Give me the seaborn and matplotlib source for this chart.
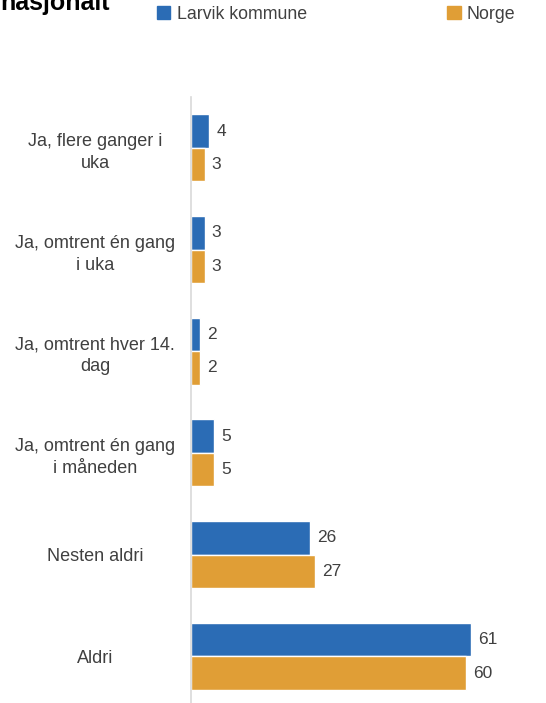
import pandas as pd
import seaborn as sns
import matplotlib.pyplot as plt
from matplotlib.patches import Patch

categories = ['Ja, flere ganger i\nuka', 'Ja, omtrent én gang\ni uka',
              'Ja, omtrent hver 14.\ndag', 'Ja, omtrent én gang\ni måneden',
              'Nesten aldri', 'Aldri']
larvik = [4, 3, 2, 5, 26, 61]
norge = [3, 3, 2, 5, 27, 60]
series = ['Larvik kommune', 'Norge']
colors = ['#2b6cb5', '#e09e36']

df = pd.DataFrame({'kategori': categories * 2,
                   'verdi': larvik + norge,
                   'serie': [series[0]] * 6 + [series[1]] * 6})

sns.set_style('white')
plt.rcParams['font.family'] = ['Liberation Sans', 'DejaVu Sans']
grey = '#404040'

fig = plt.figure(figsize=(5.46, 7.03), dpi=100)
ax = fig.add_axes([191 / 546, 0, 355 / 546, 606 / 703])

sns.barplot(data=df, x='verdi', y='kategori', hue='serie', orient='h',
            palette=colors, width=0.66, order=categories, hue_order=series,
            ax=ax, legend=False, saturation=1)

ax.set_xlim(0, 355 / 4.59)
ax.set_ylim(5.46, -0.5)
ax.set_xlabel('')
ax.set_ylabel('')
ax.set_xticks([])
for s in ['top', 'right', 'bottom']:
    ax.spines[s].set_visible(False)
ax.spines['left'].set_color('#d9d9d9')
ax.spines['left'].set_linewidth(1.2)

ax.tick_params(axis='y', length=0, pad=69)
for lbl in ax.get_yticklabels():
    lbl.set_ha('center')
    lbl.set_multialignment('center')
    lbl.set_fontsize(13)
    lbl.set_color(grey)
    lbl.set_linespacing(1.4)

for cont in ax.containers:
    ax.bar_label(cont, padding=5, fontsize=12.5, color=grey)

handles = [Patch(color=c) for c in colors]
fig.legend(handles, series, loc='upper left', bbox_to_anchor=(150 / 546, 1 + 1 / 703),
           ncol=2, frameon=False, fontsize=12.8, labelcolor=grey,
           handlelength=0.75, handleheight=0.75, handletextpad=0.35,
           columnspacing=7.9, borderaxespad=0)

fig.text(0.0, 1 - 10 / 703, 'nasjonalt', fontsize=18, fontweight='bold',
         va='baseline', ha='left', color='black')

plt.savefig('out.png', dpi=100)
